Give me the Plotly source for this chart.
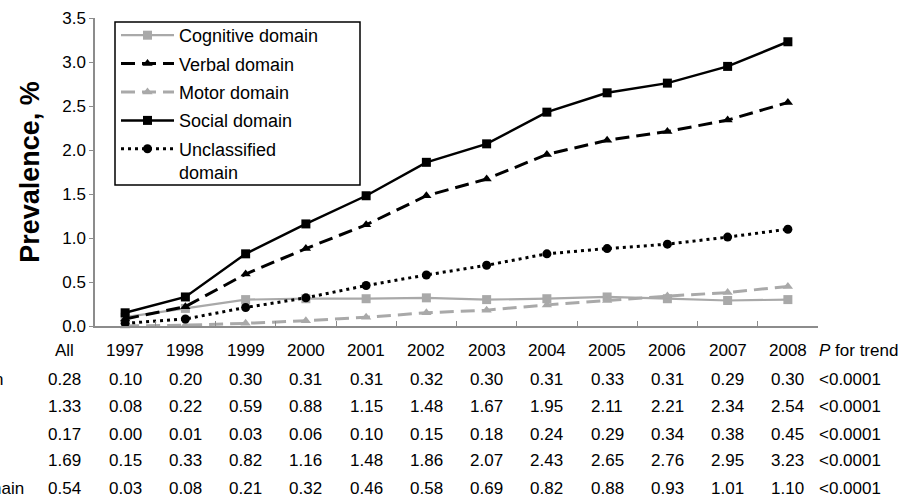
import plotly.graph_objects as go

years = [1997, 1998, 1999, 2000, 2001, 2002, 2003, 2004, 2005, 2006, 2007, 2008]
series_names = ["Cognitive domain", "Verbal domain", "Motor domain", "Social domain", "Unclassified domain"]
legend_names = ["Cognitive domain", "Verbal domain", "Motor domain", "Social domain", "Unclassified<br>domain"]

cognitive = [0.10, 0.20, 0.30, 0.31, 0.31, 0.32, 0.30, 0.31, 0.33, 0.31, 0.29, 0.30]
verbal = [0.08, 0.22, 0.59, 0.88, 1.15, 1.48, 1.67, 1.95, 2.11, 2.21, 2.34, 2.54]
motor = [0.00, 0.01, 0.03, 0.06, 0.10, 0.15, 0.18, 0.24, 0.29, 0.34, 0.38, 0.45]
social = [0.15, 0.33, 0.82, 1.16, 1.48, 1.86, 2.07, 2.43, 2.65, 2.76, 2.95, 3.23]
unclassified = [0.03, 0.08, 0.21, 0.32, 0.46, 0.58, 0.69, 0.82, 0.88, 0.93, 1.01, 1.10]

all_values = [0.28, 1.33, 0.17, 1.69, 0.54]
p_trend = ["<0.0001", "<0.0001", "<0.0001", "<0.0001", "<0.0001"]
header_all = "All"
header_p = "<i>P</i> for trend"

FONT = "Liberation Sans, Arial, sans-serif"
GRAY = "#a9a9a9"
AXIS = "#8c8c8c"

styles = [
    dict(color=GRAY, dash="solid", width=2.2, symbol="square", size=9),
    dict(color="black", dash="14px,7px", width=3, symbol="triangle-up", size=9),
    dict(color=GRAY, dash="14px,7px", width=3, symbol="triangle-up", size=9),
    dict(color="black", dash="solid", width=2.5, symbol="square", size=9),
    dict(color="black", dash="3px,4px", width=3, symbol="circle", size=9),
]
data_rows = [cognitive, verbal, motor, social, unclassified]

fig = go.Figure()
for name, lname, vals, st in zip(series_names, legend_names, data_rows, styles):
    fig.add_trace(go.Scatter(
        x=years, y=vals, name=lname, mode="lines+markers",
        legendgroup=name,
        line=dict(color=st["color"], dash=st["dash"], width=st["width"]),
        marker=dict(symbol=st["symbol"], size=st["size"], color=st["color"]),
        cliponaxis=False,
    ))

# plot-area geometry (pixels)
W, H = 921, 497
ml, mr, mt, mb = 95, 103, 18, 171
pw, ph = W - ml - mr, H - mt - mb
x0, x1 = years[0] - 0.5, years[-1] + 0.5

def ypaper(ypix):
    return (H - mb - ypix) / ph

def xpaper_pix(xpix):
    return (xpix - ml) / pw

def xpaper_val(v):
    return (v - x0) / (x1 - x0)

row_y = [379, 406, 434, 461, 488]
header_y = 350
tfont = dict(family=FONT, size=17, color="black")

col_all = xpaper_val(years[0] - 1)
col_p = xpaper_val(years[-1] + 0.48)

ann = []
ann.append(dict(x=col_all, y=ypaper(header_y), xref="paper", yref="paper", text=header_all,
                showarrow=False, xanchor="center", yanchor="middle", font=tfont))
for yr in years:
    ann.append(dict(x=xpaper_val(yr), y=ypaper(header_y), xref="paper", yref="paper", text=str(yr),
                    showarrow=False, xanchor="center", yanchor="middle", font=tfont))
ann.append(dict(x=col_p, y=ypaper(header_y), xref="paper", yref="paper", text=header_p,
                showarrow=False, xanchor="left", yanchor="middle", font=tfont))

for i, (name, vals) in enumerate(zip(series_names, data_rows)):
    yp = ypaper(row_y[i])
    ann.append(dict(x=xpaper_pix(-130), y=yp, xref="paper", yref="paper", text=name,
                    showarrow=False, xanchor="left", yanchor="middle", font=tfont))
    ann.append(dict(x=col_all, y=yp, xref="paper", yref="paper", text=f"{all_values[i]:.2f}",
                    showarrow=False, xanchor="center", yanchor="middle", font=tfont))
    for yr, v in zip(years, vals):
        ann.append(dict(x=xpaper_val(yr), y=yp, xref="paper", yref="paper", text=f"{v:.2f}",
                        showarrow=False, xanchor="center", yanchor="middle", font=tfont))
    ann.append(dict(x=col_p, y=yp, xref="paper", yref="paper", text=p_trend[i],
                    showarrow=False, xanchor="left", yanchor="middle", font=tfont))

# legend frame (drawn as a shape so it can be wider than the legend text)
shapes = [dict(type="rect", xref="paper", yref="paper",
               x0=xpaper_pix(115), x1=xpaper_pix(360), y0=ypaper(185), y1=ypaper(22),
               line=dict(color="black", width=1.5), fillcolor="white", layer="above")]

fig.update_layout(
    width=W, height=H,
    margin=dict(l=ml, r=mr, t=mt, b=mb, autoexpand=False),
    paper_bgcolor="white", plot_bgcolor="white",
    font=dict(family=FONT, size=17, color="black"),
    showlegend=True,
    legend=dict(
        x=xpaper_pix(116), y=ypaper(17), xanchor="left", yanchor="top",
        bgcolor="rgba(0,0,0,0)", borderwidth=0,
        font=dict(family=FONT, size=18, color="black"),
        itemwidth=53, tracegroupgap=2, valign="top",
    ),
    xaxis=dict(
        range=[x0, x1],
        tickmode="array", tickvals=[y + 0.5 for y in years], ticktext=["" for _ in years],
        ticks="inside", ticklen=5, tickcolor=AXIS, tickwidth=1,
        showline=True, linecolor=AXIS, linewidth=1.5,
        showgrid=False, zeroline=False, fixedrange=True,
    ),
    yaxis=dict(
        range=[0, 3.5], dtick=0.5, tick0=0, tickformat=".1f",
        ticks="outside", ticklen=4, tickcolor=AXIS, tickwidth=1,
        showline=True, linecolor=AXIS, linewidth=1.5,
        showgrid=False, zeroline=False,
        tickfont=dict(family=FONT, size=17, color="black"),
        title=dict(text="<b>Prevalence, %</b>", font=dict(family=FONT, size=27, color="black"), standoff=15),
    ),
    annotations=ann,
    shapes=shapes,
)

fig.write_html("out.html", config={"displayModeBar": False},
               post_script="document.body.style.margin='0px';")
